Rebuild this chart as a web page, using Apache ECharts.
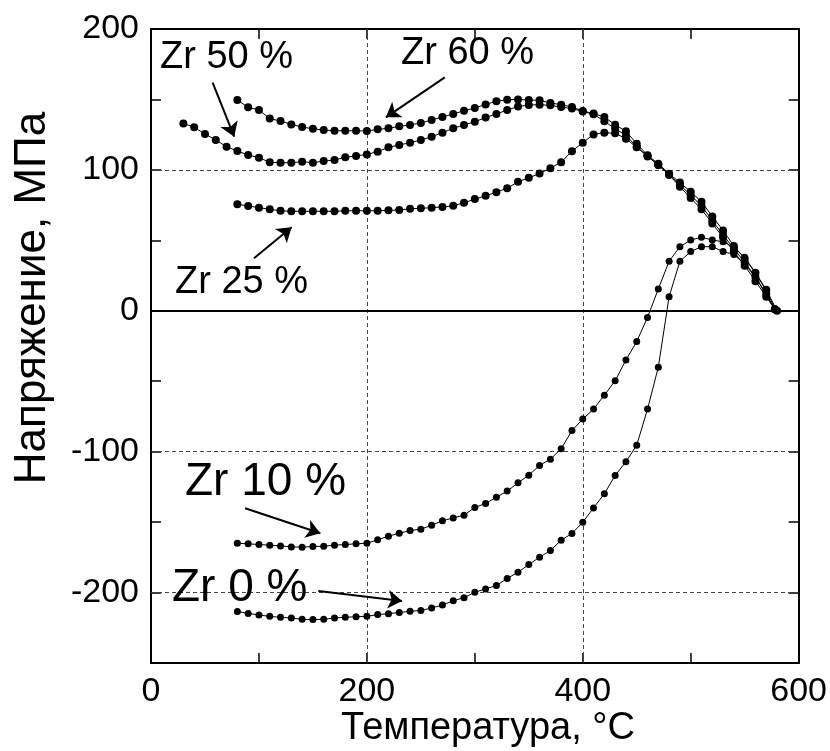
<!DOCTYPE html>
<html><head><meta charset="utf-8">
<script src="https://cdn.jsdelivr.net/npm/echarts@6/dist/echarts.min.js"></script>
<style>html,body{margin:0;padding:0;background:#fff}#c{width:830px;height:751px}</style>
</head><body><div id="c"></div>
<script>
// ---- data ----
const xTickLabels = [0, 200, 400, 600];
const yTickLabels = [-200, -100, 0, 100, 200];
const xGridValues = [200, 400];
const yGridValues = [100, -100, -200];

const zr0T = [80,90,100,110,120,130,140,150,160,170,180,190,200,210,220,230,240,250,260,270,280,290,300,310,320,330,340,350,360,370,380,390,400,410,420,430,440,450,460,470,480,490,500,510,520,530,540,550,560,570,578];
const zr0S = [-213.4,-214.8,-215.9,-216.9,-217.6,-218.0,-219.0,-219.2,-219.0,-218.0,-217.6,-217.1,-216.9,-215.6,-215.0,-214.2,-213.3,-212.7,-211.0,-208.8,-205.9,-203.6,-199.8,-197.4,-195.0,-190.0,-185.6,-180.1,-174.9,-170.2,-162.8,-158.1,-150.1,-139.9,-129.9,-116.9,-107.2,-95.4,-69.8,-40.0,10.0,35.1,42.0,45.5,45.5,42.0,40.0,33.0,24.0,11.0,1.0];

const zr10T = [80,90,100,110,120,130,140,150,160,170,180,190,200,210,220,230,240,250,260,270,280,290,300,310,320,330,340,350,360,370,380,390,400,410,420,430,440,450,460,470,480,490,500,510,520,530,540,550,560,570,579];
const zr10S = [-165.0,-165.4,-165.9,-166.4,-166.9,-167.6,-167.8,-167.3,-167.1,-166.4,-165.9,-165.4,-165.0,-162.6,-160.0,-157.9,-156.0,-155.0,-152.2,-149.1,-147.0,-145.1,-139.6,-136.8,-132.3,-128.0,-122.1,-116.7,-109.8,-105.3,-98.0,-85.0,-76.9,-69.8,-59.9,-49.7,-35.0,-21.8,-4.7,15.5,35.1,45.5,50.2,52.2,50.2,49.0,45.0,38.0,27.0,14.0,0.5];

const zr25T = [80,90,100,110,120,130,140,150,160,170,180,190,200,210,220,230,240,250,260,270,280,290,300,310,320,330,340,350,360,370,380,390,400,410,420,430,440,450,460,470,480,490,500,510,520,530,540,550,560,570,578];
const zr25S = [75.6,74.4,73.2,72.0,71.0,70.6,70.6,70.6,70.6,70.6,71.0,71.0,71.0,71.0,71.3,71.5,72.4,72.7,73.2,73.7,74.5,76.6,79.3,81.6,84.2,87.0,91.5,94.4,97.4,101.2,105.5,113.3,119.3,125.2,126.4,126.0,122.1,116.0,110.0,103.5,96.5,88.0,80.0,72.0,62.0,52.0,42.0,32.0,21.0,10.0,1.0];

const zr50T = [30,40,50,60,70,80,90,100,110,120,130,140,150,160,170,180,190,200,210,220,230,240,250,260,270,280,290,300,310,320,330,340,350,360,370,380,390,400,410,420,430,440,450,460,470,480,490,500,510,520,530,540,550,560,570,578];
const zr50S = [133.0,130.2,125.5,121.2,116.5,113.4,110.6,108.7,105.4,105.1,105.1,105.8,105.1,106.3,107.0,108.9,109.9,111.0,112.9,116.0,117.7,119.3,121.2,123.6,126.4,129.5,131.9,134.2,137.1,139.7,142.5,145.0,146.0,146.3,145.8,144.6,143.5,141.5,139.5,134.5,129.2,124.6,116.3,109.5,103.5,96.5,89.5,82.0,74.5,64.0,54.0,44.0,34.5,24.0,12.0,1.0];

const zr60T = [80,90,100,110,120,130,140,150,160,170,180,190,200,210,220,230,240,250,260,270,280,290,300,310,320,330,340,350,360,370,380,390,400,410,420,430,440,450,460,470,480,490,500,510,520,530,540,550,560,570,580];
const zr60S = [149.6,144.4,142.5,136.4,134.7,132.3,130.4,129.2,128.3,127.8,127.8,127.8,127.6,128.8,129.5,130.9,131.9,133.3,135.4,137.5,139.7,142.0,143.9,146.5,148.7,149.8,150.0,149.6,149.4,147.5,146.3,144.6,141.8,140.0,137.5,132.1,127.4,118.6,110.4,104.4,97.3,91.0,84.5,77.4,67.0,57.0,46.0,37.0,27.0,15.0,0.0];

const curveNames = ['Zr 0 %', 'Zr 10 %', 'Zr 25 %', 'Zr 50 %', 'Zr 60 %'];

// ---- chart ----
const FONT = "'Liberation Sans', Arial, sans-serif";
function pairs(t, s) { return t.map((v, i) => [v, s[i]]); }

const curves = [
  {name: curveNames[0], data: pairs(zr0T, zr0S), size: 7},
  {name: curveNames[1], data: pairs(zr10T, zr10S), size: 7},
  {name: curveNames[2], data: pairs(zr25T, zr25S), size: 8},
  {name: curveNames[3], data: pairs(zr50T, zr50S), size: 8},
  {name: curveNames[4], data: pairs(zr60T, zr60S), size: 8}
];

// annotation arrows in data coordinates: [from, to]
const arrows = [
  [[57.1, 161.9], [77.1, 123.6]],
  [[272.2, 165.7], [217.6, 137.3]],
  [[95.4, 37.3], [130.3, 59.3]],
  [[87.2, -140.2], [156.9, -157.9]],
  [[155.0, -198.9], [232.6, -206.0]]
];

const axisCommon = {
  type: 'value',
  axisLine: {show: true, onZero: false, lineStyle: {color: '#000', width: 2}},
  axisTick: {show: true, inside: true, length: 10, lineStyle: {color: '#000', width: 1.5}},
  splitLine: {show: false}
};

const series = curves.map(c => ({
  name: c.name,
  type: 'line',
  data: c.data,
  symbol: 'circle',
  symbolSize: c.size,
  showSymbol: true,
  itemStyle: {color: '#000'},
  lineStyle: {color: '#000', width: 1},
  silent: true,
  z: 5,
  animation: false
}));

series.push({
  name: 'grid-lines',
  type: 'line',
  data: [],
  silent: true,
  z: 1,
  animation: false,
  markLine: {
    silent: true,
    symbol: ['none', 'none'],
    label: {show: false},
    animation: false,
    data: [
      ...xGridValues.map(v => ({xAxis: v, lineStyle: {color: '#444', width: 1, type: [4, 3]}})),
      ...yGridValues.map(v => ({yAxis: v, lineStyle: {color: '#444', width: 1, type: [4, 3]}})),
      {yAxis: 0, lineStyle: {color: '#000', width: 2, type: 'solid'}}
    ]
  }
});

series.push({
  name: 'arrows',
  type: 'line',
  data: [],
  silent: true,
  z: 6,
  animation: false,
  markLine: {
    silent: true,
    symbol: ['none', 'arrow'],
    symbolSize: 14,
    label: {show: false},
    animation: false,
    lineStyle: {color: '#000', width: 2, type: 'solid'},
    data: arrows.map(a => [{coord: a[0]}, {coord: a[1]}])
  }
});

function txt(text, x, y, size, align, rot) {
  return {
    type: 'text', x: x, y: y, rotation: rot || 0, silent: true, z: 10,
    style: {text: text, font: size + 'px ' + FONT, fill: '#000',
      align: align || 'left', verticalAlign: 'middle',
      textAlign: align || 'left', textVerticalAlign: 'middle'}
  };
}

const option = {
  backgroundColor: '#fff',
  animation: false,
  grid: {left: 151, right: 31, top: 29, bottom: 88, containLabel: false},
  xAxis: [
    Object.assign({}, axisCommon, {
      min: 0, max: 600, interval: 100, position: 'bottom',
      axisLabel: {show: true, margin: 12, color: '#000', fontSize: 34, fontFamily: FONT,
        formatter: v => (xTickLabels.indexOf(v) >= 0 ? String(v) : '')}
    }),
    Object.assign({}, axisCommon, {
      min: 0, max: 600, interval: 100, position: 'top',
      axisLabel: {show: false}
    })
  ],
  yAxis: [
    Object.assign({}, axisCommon, {
      min: -250, max: 200, interval: 50, position: 'left',
      axisLabel: {show: true, margin: 12, color: '#000', fontSize: 34, fontFamily: FONT,
        formatter: v => (yTickLabels.indexOf(v) >= 0 ? String(v) : '')}
    }),
    Object.assign({}, axisCommon, {
      min: -250, max: 200, interval: 50, position: 'right',
      axisLabel: {show: false}
    })
  ],
  series: series,
  graphic: [
    txt('Напряжение, МПа', 33, 298, 44, 'center', Math.PI / 2),
    txt('Температура, °C', 488, 729, 38, 'center'),
    txt(curveNames[3], 160, 58, 38),
    txt(curveNames[4], 401, 54, 38),
    txt(curveNames[2], 175, 283, 38),
    txt(curveNames[1], 185, 482, 46),
    txt(curveNames[0], 172, 588, 46)
  ]
};

const chart = echarts.init(document.getElementById('c'), null, {renderer: 'canvas'});
chart.setOption(option);
</script>
</body></html>
